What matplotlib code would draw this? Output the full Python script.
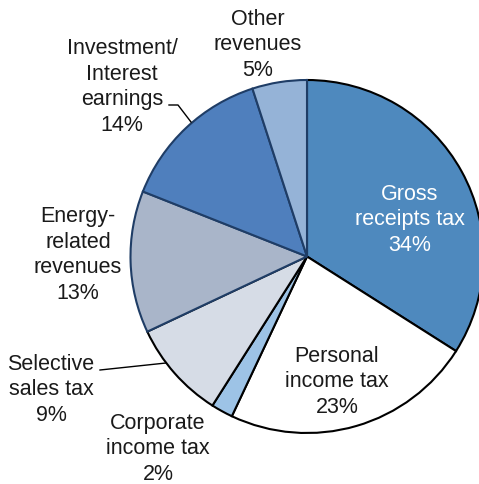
import matplotlib
matplotlib.use('Agg')
import matplotlib.pyplot as plt

# data
categories = ['Gross\nreceipts tax', 'Personal\nincome tax', 'Corporate\nincome tax',
              'Selective\nsales tax', 'Energy-\nrelated\nrevenues',
              'Investment/\nInterest\nearnings', 'Other\nrevenues']
shares = [34, 23, 2, 9, 13, 14, 5]
colors = ['#4E89BE', '#FFFFFF', '#9DC3E6', '#D6DCE6', '#A9B5C9', '#4F7FBD', '#95B3D7']
edges = ['#000000', '#000000', '#000000', '#000000', '#1F3D66', '#1F3D66', '#1F3D66']

W, H = 479, 485
fig = plt.figure(figsize=(W / 100, H / 100), dpi=100)
ax = fig.add_axes([0, 0, 1, 1])

# pie in pixel coordinates (y measured from the bottom)
wedges, _ = ax.pie(shares, colors=colors, startangle=90, counterclock=False,
                   center=(307, H - 257.5), radius=176.5, frame=True,
                   wedgeprops=dict(linewidth=1.5))
for w, ec in zip(wedges, edges):
    w.set_edgecolor(ec)

ax.set_xlim(0, W)
ax.set_ylim(0, H)
ax.set_aspect('equal')
ax.axis('off')

# label positions (pixel coordinates from the top)
label_pos = [(410, 220), (337, 382), (158, 449), (51, 390), (78, 255), (122, 87), (258, 45)]
for i, (name, val) in enumerate(zip(categories, shares)):
    x, y = label_pos[i]
    ax.text(x, H - y, f'{name}\n{val}%', ha='center', va='center',
            fontsize=15.5, family=['Liberation Sans', 'DejaVu Sans'],
            color='white' if i == 0 else '#1a1a1a', linespacing=1.3)

# leader lines
ax.plot([169, 178, 191], [H - 106, H - 106, H - 123], color='black', lw=1)
ax.plot([100, 166], [H - 371, H - 364], color='black', lw=1)

fig.savefig('out.png', dpi=100)
